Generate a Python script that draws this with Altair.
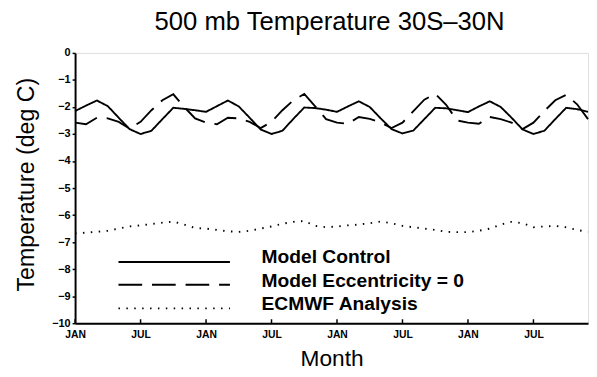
import json
import altair as alt
import pandas as pd

months = list(range(48))

control = [
    -2.15, -1.95, -1.76, -1.97, -2.40, -2.82, -3.00, -2.88, -2.45, -2.03, -2.07, -2.12,
    -2.18, -1.97, -1.76, -1.98, -2.40, -2.83, -3.00, -2.88, -2.44, -2.02, -2.04, -2.10,
    -2.18, -1.98, -1.79, -2.00, -2.42, -2.82, -2.98, -2.87, -2.45, -2.03, -2.05, -2.12,
    -2.19, -1.98, -1.79, -2.00, -2.40, -2.83, -3.00, -2.88, -2.45, -2.03, -2.08, -2.18,
]
ecc0 = [
    -2.58, -2.64, -2.40, -2.42, -2.55, -2.80, -2.55, -2.12, -1.75, -1.53, -2.00, -2.42,
    -2.58, -2.64, -2.40, -2.42, -2.55, -2.78, -2.55, -2.12, -1.75, -1.52, -1.98, -2.45,
    -2.58, -2.62, -2.37, -2.44, -2.58, -2.78, -2.58, -2.15, -1.73, -1.51, -1.92, -2.50,
    -2.58, -2.62, -2.37, -2.45, -2.58, -2.82, -2.58, -2.15, -1.75, -1.55, -1.90, -2.45,
]
ecmwf = [
    -6.68, -6.65, -6.62, -6.58, -6.50, -6.42, -6.38, -6.33, -6.28, -6.24, -6.35, -6.48,
    -6.50, -6.55, -6.60, -6.62, -6.58, -6.50, -6.42, -6.32, -6.25, -6.22, -6.40, -6.45,
    -6.42, -6.38, -6.35, -6.30, -6.24, -6.30, -6.40, -6.45, -6.50, -6.55, -6.62, -6.63,
    -6.63, -6.58, -6.50, -6.35, -6.25, -6.30, -6.45, -6.42, -6.40, -6.45, -6.55, -6.62,
]

series_names = ["Model Control", "Model Eccentricity = 0", "ECMWF Analysis"]
tick_values = [0, 6, 12, 18, 24, 30, 36, 42]
tick_labels = ["JAN", "JUL", "JAN", "JUL", "JAN", "JUL", "JAN", "JUL"]
y_ticks = list(range(-10, 1))

rows = []
for name, vals in zip(series_names, [control, ecc0, ecmwf]):
    for m, v in zip(months, vals):
        rows.append({"month": m, "temp": v, "series": name})
df = pd.DataFrame(rows)

W, H = 520, 274
dashes = [[1, 0], [24, 10], [1.5, 6.5]]
FONT = "Liberation Sans"

x_scale = alt.Scale(domain=[0, 47], nice=False, zero=False)
y_scale = alt.Scale(domain=[-10, 0], nice=False)

lines = alt.Chart(df).mark_line(color="black", strokeWidth=1.9).encode(
    x=alt.X("month:Q", scale=x_scale,
            axis=alt.Axis(values=tick_values,
                          labelExpr=f"{json.dumps(tick_labels)}[round(datum.value/6)]",
                          ticks=False, grid=False, domainColor="black", domainWidth=2,
                          labelFont=FONT, labelFontWeight="bold", labelFontSize=10.5,
                          labelColor="black", labelPadding=6, labelFlush=False,
                          title="Month", titleFont=FONT, titleFontWeight="normal",
                          titleFontSize=23, titleColor="black",
                          titleBaseline="alphabetic", titleY=43)),
    y=alt.Y("temp:Q", scale=y_scale,
            axis=alt.Axis(values=y_ticks, format="d", grid=False,
                          domainColor="black", domainWidth=2,
                          tickColor="black", tickSize=3, tickWidth=1.5,
                          labelFont=FONT, labelFontWeight="bold", labelFontSize=11,
                          labelColor="black", labelPadding=2,
                          title="Temperature (deg C)", titleFont=FONT,
                          titleFontWeight="normal", titleFontSize=23.5, titleColor="black",
                          titleX=-49, titleY=133, titleAlign="center",
                          titleBaseline="middle")),
    strokeDash=alt.StrokeDash("series:N",
                              scale=alt.Scale(domain=series_names, range=dashes),
                              legend=None),
    detail="series:N",
)

xticks = alt.Chart(pd.DataFrame({"m": tick_values})).mark_rule(
    color="black", strokeWidth=1.5).encode(
    x=alt.X("m:Q", scale=x_scale), y=alt.value(H - 4), y2=alt.value(H))

leg_df = pd.DataFrame({"series": series_names})
line_y = [212, 235, 259]
text_y = [213, 237, 261]
legend_layers = []
for i, name in enumerate(series_names):
    base = alt.Chart(leg_df).transform_filter(alt.datum.series == name)
    legend_layers.append(base.mark_rule(color="black", strokeWidth=1.9,
                                        strokeDash=dashes[i]).encode(
        x=alt.value(44), x2=alt.value(157), y=alt.value(line_y[i])))
    legend_layers.append(base.mark_text(align="left", baseline="alphabetic",
                                        font=FONT, fontSize=19.5, fontWeight="bold",
                                        color="black").encode(
        x=alt.value(189), y=alt.value(text_y[i]), text="series:N"))

chart = alt.layer(lines, xticks, *legend_layers).properties(
    width=W, height=H,
    title=alt.TitleParams("500 mb Temperature 30S\u201330N", font=FONT, fontSize=26,
                          fontWeight="normal", color="black", anchor="middle",
                          offset=12, dx=-2),
    autosize=alt.AutoSizeParams(type="none"),
    padding={"left": 68, "top": 43, "right": 1, "bottom": 52},
).configure_view(stroke="black", strokeWidth=1.5).configure(background="white")

chart.save("out.html", embed_options={"renderer": "svg", "actions": False})
